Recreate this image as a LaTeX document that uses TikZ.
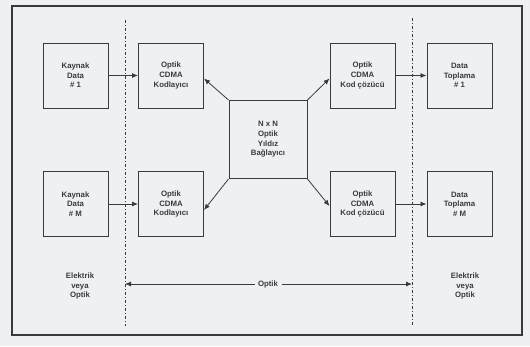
\documentclass[tikz,border=0pt]{standalone}
\usepackage{fontspec}
\setmainfont{Liberation Sans}
\usetikzlibrary{arrows.meta}
\definecolor{paper}{HTML}{EEF1F3}
\definecolor{ink}{HTML}{3A3A3C}
\tikzset{
  blk/.style={draw=ink, line width=1pt, minimum width=65pt, minimum height=65pt,
    align=center, font=\fontsize{7.8}{9.6}\selectfont\bfseries, text=ink, inner sep=1pt},
  conn/.style={draw=ink, line width=0.8pt, -{Latex[length=6pt,width=5pt]}},
  divider/.style={draw=ink, line width=0.9pt, dash pattern=on 3pt off 2pt on 1pt off 2pt},
  lbl/.style={align=center, font=\fontsize{7.8}{9.6}\selectfont\bfseries, text=ink}
}
\begin{document}
\begin{tikzpicture}[x=1pt,y=-1pt]
  % page background and outer frame
  \fill[paper] (0,0) rectangle (530,346);
  \useasboundingbox (0,0) rectangle (530,346);
  \draw[ink, line width=1.4pt] (12,6) rectangle (522,335);

  % electrical / optical boundaries
  \coordinate (dlt) at (125,20);
  \coordinate (dlb) at (125,326);
  \coordinate (drt) at (412,18);
  \coordinate (drb) at (412,326);
  \draw[divider] (dlt) -- (dlb);
  \draw[divider] (drt) -- (drb);

  % upper row
  \node[blk] (src1) at (75.5,75.5) {Kaynak\\Data\\\# 1};
  \node[blk] (enc1) at (171,75.5) {Optik\\CDMA\\Kodlayıcı};
  \node[blk] (dec1) at (362.5,75.5) {Optik\\CDMA\\Kod çözücü};
  \node[blk] (col1) at (459.5,75.5) {Data\\Toplama\\\# 1};

  % lower row
  \node[blk] (srcM) at (75.5,204) {Kaynak\\Data\\\# M};
  \node[blk] (encM) at (171,204) {Optik\\CDMA\\Kodlayıcı};
  \node[blk] (decM) at (362.5,204) {Optik\\CDMA\\Kod çözücü};
  \node[blk] (colM) at (459.5,204) {Data\\Toplama\\\# M};

  % star coupler
  \node[blk, minimum width=78pt, minimum height=78pt] (star) at (268,139.5) {N x N\\Optik\\Yıldız\\Bağlayıcı};

  % horizontal links
  \draw[conn] (src1.east) -- (enc1.west);
  \draw[conn] (dec1.east) -- (col1.west);
  \draw[conn] (srcM.east) -- (encM.west);
  \draw[conn] (decM.east) -- (colM.west);

  % star coupler links
  \draw[conn] (star.north west) -- ([yshift=-3pt]enc1.east);
  \draw[conn] (star.south west) -- ([yshift=-6pt]encM.east);
  \draw[conn] (star.north east) -- ([yshift=-3pt]dec1.west);
  \draw[conn] (star.south east) -- ([yshift=-2pt]decM.west);

  % optical span
  \node[lbl] (opt) at (268,284) {Optik};
  \coordinate (oL) at (125,284);
  \coordinate (oR) at (412,284);
  \draw[conn] (opt.west) -- (oL);
  \draw[conn] (opt.east) -- (oR);

  % domain labels
  \node[lbl] (elL) at (80,286) {Elektrik\\veya\\Optik};
  \node[lbl] (elR) at (465,286) {Elektrik\\veya\\Optik};
\end{tikzpicture}
\end{document}
